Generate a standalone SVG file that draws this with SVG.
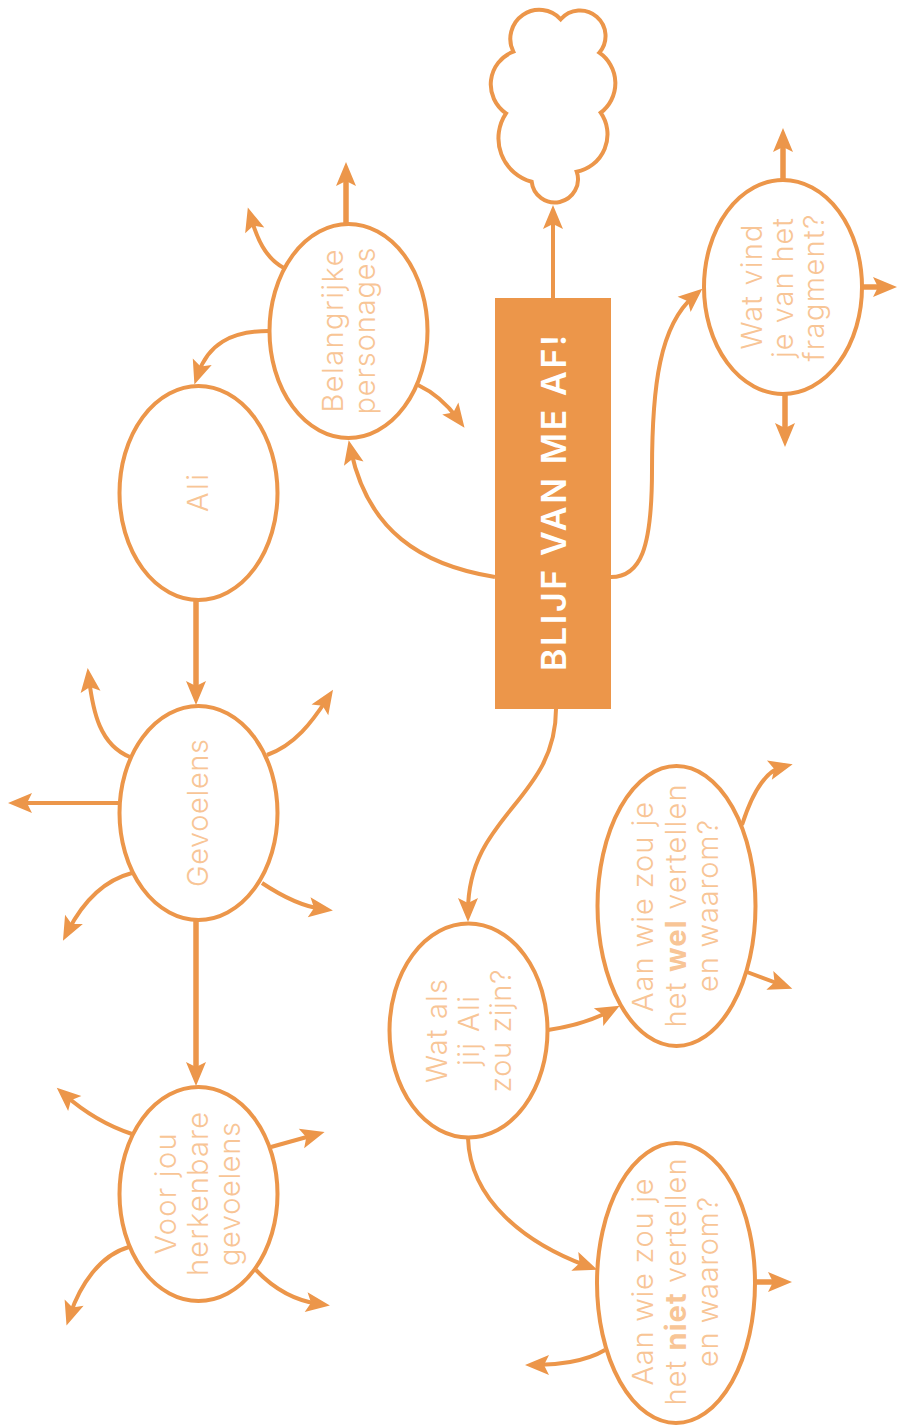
<svg xmlns="http://www.w3.org/2000/svg" width="897" height="1426" viewBox="0 0 897 1426">
<style>
.n{fill:#fff;stroke:#EC964A;stroke-width:4}
.c path{fill:none;stroke:#EC964A;stroke-width:4;marker-end:url(#a)}
.c path.t{stroke-width:5.5}
.l{font-family:Inter,"Open Sans",sans-serif;font-weight:300;font-size:29px;fill:#F8C596;text-anchor:middle}
.l tspan{font-weight:700}
.h{font-family:Inter,"Open Sans",sans-serif;font-weight:600;font-size:34px;fill:#fff;text-anchor:middle}
</style>
<defs>
<marker id="a" markerUnits="userSpaceOnUse" markerWidth="30" markerHeight="24" refX="13" refY="10" orient="auto" overflow="visible">
<path d="M0,0 L24,10 L0,20 L5,10 Z" fill="#EC964A"/>
</marker>
</defs>
<g class="c" id="connectors">
<path d="M553,298V216"/>
<path class="t" d="M783,180V139"/>
<path class="t" d="M862,287H886"/>
<path class="t" d="M785,394V436"/>
<path d="M611,577C640,577 652,550 652,470C652,385 660,325 694,296"/>
<path d="M495,577C420,565 368,530 351,451"/>
<path d="M556,709C556,800 468,815 468,911"/>
<path class="t" d="M346,224V173"/>
<path d="M284,268C265,258 257,238 251,218"/>
<path d="M269,331C230,331 208,345 198,374"/>
<path d="M418,385C435,393 447,404 458,419"/>
<path class="t" d="M196,600V694"/>
<path class="t" d="M196,920V1075"/>
<path d="M130,757C100,745 93,712 89,679"/>
<path d="M267,755C295,745 312,722 327,699"/>
<path d="M119,803H19"/>
<path d="M132,873C105,880 84,900 68,931"/>
<path d="M262,883C280,895 300,906 322,909"/>
<path d="M132,1134C105,1125 82,1110 65,1095"/>
<path d="M271,1147L314,1135"/>
<path d="M129,1247C100,1255 80,1285 70,1315"/>
<path d="M256,1270C275,1290 298,1301 319,1304"/>
<path d="M548,1030C575,1026 595,1019 610,1011"/>
<path d="M468,1138C470,1200 525,1243 587,1266"/>
<path d="M742,825C750,800 762,772 782,767"/>
<path d="M747,972L782,985"/>
<path class="t" d="M755,1282H781"/>
<path d="M605,1350C585,1362 555,1365 536,1365"/>
</g>
<g id="cloud"><path class="n" d="M560.7,19.3A25.5,25.5 0 1 1 599.3,52.7A37,37 0 0 1 600.7,112.7A38,38 0 0 1 576.7,171.7A23.2,23.2 0 1 1 531.7,181.7A45,45 0 0 1 506,113.3A35,35 0 0 1 513.3,51.7A29,29 0 0 1 560.7,19.3Z"/></g>
<g id="title"><rect x="495" y="298" width="116" height="411" fill="#EC964A"/><text class="h" transform="translate(566,503) rotate(-90)" textLength="336">BLIJF VAN ME AF!</text></g>
<g id="belangrijke"><ellipse class="n" cx="348.5" cy="331" rx="79" ry="107"/><text class="l" transform="translate(343,331) rotate(-90)" textLength="163">Belangrijke</text><text class="l" transform="translate(375,331) rotate(-90)" textLength="167">personages</text></g>
<g id="ali"><ellipse class="n" cx="198.5" cy="493" rx="79" ry="107"/><text class="l" transform="translate(208,493) rotate(-90)" textLength="38">Ali</text></g>
<g id="gevoelens"><ellipse class="n" cx="198.5" cy="813" rx="79" ry="107"/><text class="l" transform="translate(208,813) rotate(-90)" textLength="148">Gevoelens</text></g>
<g id="herkenbaar"><ellipse class="n" cx="198.5" cy="1194" rx="79" ry="107"/><text class="l" transform="translate(176,1194) rotate(-90)" textLength="121">Voor jou</text><text class="l" transform="translate(208,1194) rotate(-90)" textLength="164">herkenbare</text><text class="l" transform="translate(240,1194) rotate(-90)" textLength="144">gevoelens</text></g>
<g id="watals"><ellipse class="n" cx="468.5" cy="1030.5" rx="79" ry="107"/><text class="l" transform="translate(447,1031) rotate(-90)" textLength="104">Wat als</text><text class="l" transform="translate(479,1031) rotate(-90)" textLength="70">jij Ali</text><text class="l" transform="translate(511,1031) rotate(-90)" textLength="123">zou zijn?</text></g>
<g id="wel"><ellipse class="n" cx="676.5" cy="906" rx="79" ry="140"/><text class="l" transform="translate(653,907) rotate(-90)" textLength="210">Aan wie zou je</text><text class="l" transform="translate(686,906) rotate(-90)" textLength="243">het <tspan>wel</tspan> vertellen</text><text class="l" transform="translate(718,906) rotate(-90)" textLength="172">en waarom?</text></g>
<g id="niet"><ellipse class="n" cx="676" cy="1283" rx="79" ry="140"/><text class="l" transform="translate(653,1282) rotate(-90)" textLength="207">Aan wie zou je</text><text class="l" transform="translate(686,1282) rotate(-90)" textLength="247">het <tspan>niet</tspan> vertellen</text><text class="l" transform="translate(718,1282) rotate(-90)" textLength="170">en waarom?</text></g>
<g id="watvind"><ellipse class="n" cx="783" cy="287" rx="79" ry="107"/><text class="l" transform="translate(762,287) rotate(-90)" textLength="125">Wat vind</text><text class="l" transform="translate(793,288) rotate(-90)" textLength="140">je van het</text><text class="l" transform="translate(824,288) rotate(-90)" textLength="147">fragment?</text></g>
</svg>
